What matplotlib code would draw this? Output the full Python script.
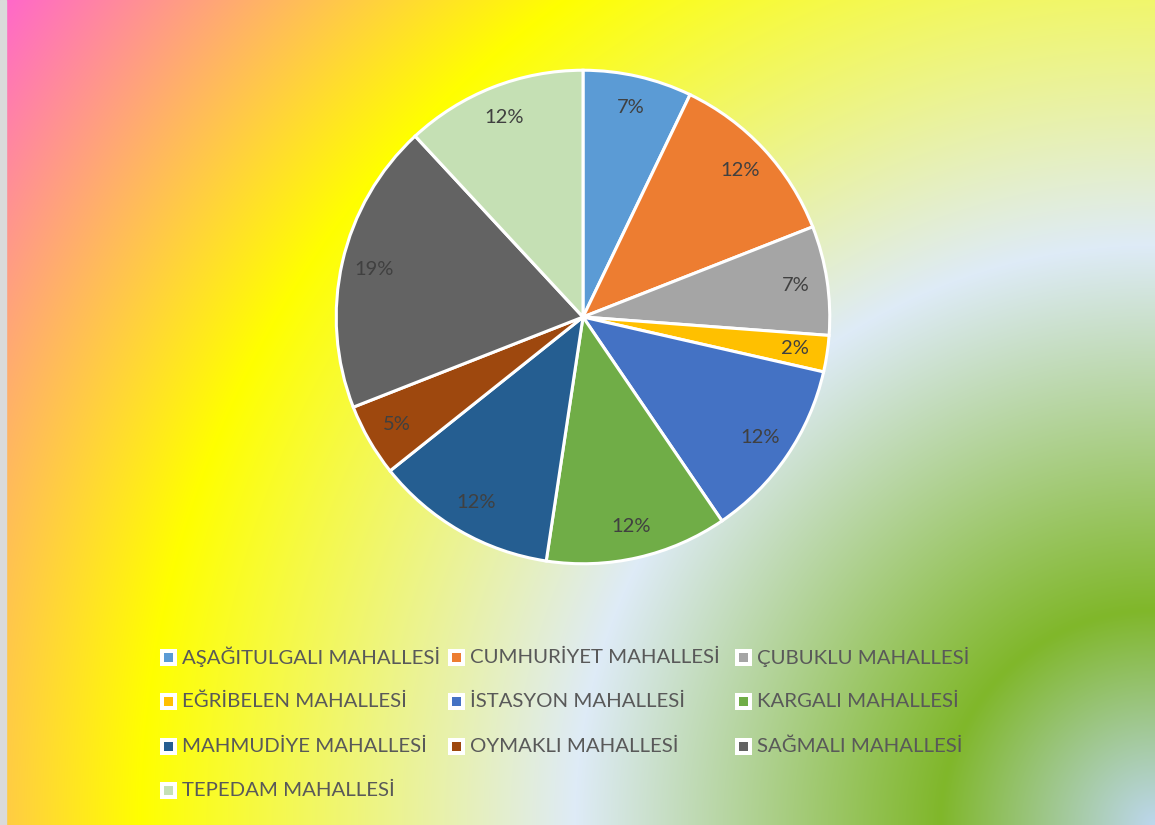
import numpy as np
import matplotlib
matplotlib.use('Agg')
import matplotlib.pyplot as plt
from matplotlib.patches import Rectangle

plt.rcParams['font.family'] = ['Lato', 'DejaVu Sans']

# data
names = ['AŞAĞITULGALI MAHALLESİ', 'CUMHURİYET MAHALLESİ', 'ÇUBUKLU MAHALLESİ',
         'EĞRİBELEN MAHALLESİ', 'İSTASYON MAHALLESİ', 'KARGALI MAHALLESİ',
         'MAHMUDİYE MAHALLESİ', 'OYMAKLI MAHALLESİ', 'SAĞMALI MAHALLESİ',
         'TEPEDAM MAHALLESİ']
counts = [3, 5, 3, 1, 5, 5, 5, 2, 8, 5]
colors = ['#5B9BD5', '#ED7D31', '#A5A5A5', '#FFC000', '#4472C4', '#70AD47',
          '#255E91', '#9E480E', '#636363', '#C5E0B4']

W, H = 1155, 825
fig = plt.figure(figsize=(W / 100, H / 100), dpi=100)

# background gradient (radial from bottom right corner)
yy, xx = np.mgrid[0:H, 0:W]
d = np.sqrt((W - xx) ** 2 + (H - yy) ** 2)
stops = [0, 215, 580, 1015, np.hypot(W, H)]
stop_cols = np.array([[189, 215, 238], [128, 183, 42], [222, 235, 247],
                      [255, 255, 0], [255, 102, 204]]) / 255.0
img = np.zeros((H, W, 3))
for c in range(3):
    img[:, :, c] = np.interp(d, stops, stop_cols[:, c])
bg = fig.add_axes([0, 0, 1, 1])
bg.imshow(img, aspect='auto', extent=(0, W, H, 0))
bg.add_patch(Rectangle((0, 0), 6, H, color='#DADADA'))
bg.set_xlim(0, W)
bg.set_ylim(H, 0)
bg.axis('off')

# pie
cx, cy, r = 583, 317, 248
ax = fig.add_axes([(cx - r) / W, (H - cy - r) / H, 2 * r / W, 2 * r / H])
wedges, texts, autotexts = ax.pie(
    counts, colors=colors, startangle=90, counterclock=False,
    autopct=lambda p: '%d%%' % round(p), pctdistance=0.87,
    wedgeprops=dict(edgecolor='white', linewidth=2.2),
    textprops=dict(color='#404040', fontsize=14.5))
ax.set_xlim(-1.005, 1.005)
ax.set_ylim(-1.005, 1.005)
ax.set_aspect('equal')

# legend, three columns in row order
for i, name in enumerate(names):
    row, col = i // 3, i % 3
    x0 = 160 + col * 287.5
    yc = 657 + row * 44.5
    bg.add_patch(Rectangle((x0, yc - 8.5), 17, 17, facecolor='white', edgecolor='none'))
    bg.add_patch(Rectangle((x0 + 4, yc - 4.5), 9, 9, facecolor=colors[i], edgecolor='none'))
    bg.text(x0 + 22, yc, name, fontsize=14.7, color='#595959', va='center', ha='left')

fig.savefig('out.png', dpi=100)
